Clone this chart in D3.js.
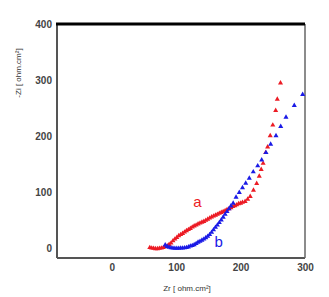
<!DOCTYPE html>
<html>
<head>
<meta charset="utf-8">
<script src="https://cdn.jsdelivr.net/npm/d3@7"></script>
<style>
  body { margin: 0; background: #fff; }
  svg { display: block; font-family: Arial, "Liberation Sans", sans-serif; }
  .tick text { fill: #444; font-size: 10px; font-weight: bold; }
</style>
</head>
<body>
<svg id="chart" width="329" height="297"></svg>
<script>
// series a (red) : Zr, -Zi
var aZr = [59, 62, 65, 68, 71, 74, 77, 80, 83, 86, 89, 92, 95, 98, 101, 104, 107, 110, 113, 116,
           119, 122, 125, 128, 131, 134, 137, 140, 143, 146, 149, 152, 155, 158, 161, 164, 167, 170, 173, 176,
           179, 182, 185, 188, 191, 194, 197, 200, 203, 207, 211, 215, 220, 225, 229, 232, 235, 239, 242, 246,
           250, 254.5, 257, 262];
var aZi = [2, 1, 0.5, 0, 0, 0.5, 1, 2, 3.5, 5, 7.5, 10, 14, 17, 20, 23, 25, 27, 29.5, 32,
           34, 36, 38.5, 40.5, 42, 44, 45.5, 47, 48.5, 50.5, 52.5, 54.5, 56.5, 58, 59.5, 61, 63, 64.5, 66, 67.5,
           69.5, 71, 73, 75, 76.5, 78, 80, 81, 82.5, 84, 88, 93, 104, 116, 129, 141, 152, 171, 181, 201,
           220, 246, 266, 295];

// series b (blue)
var bZr = [83, 86, 89, 92, 95, 98, 101, 104, 107, 110, 113, 116, 119, 122, 125, 128, 131, 134, 137, 140,
           143, 146, 149, 152, 155, 158, 161, 164, 167, 170, 173, 176, 179, 182, 185, 188.5, 193, 198, 203, 208,
           213.5, 219.7, 226.6, 232.8, 239.4, 246.7, 255, 262.3, 270.5, 283.4, 296.4];
var bZi = [6.5, 4, 2.5, 1.5, 1, 0.5, 0.5, 0.5, 1, 1, 1.5, 2, 3, 4.5, 5.5, 7, 9, 11.5, 13, 15,
           17, 19.5, 22, 25, 29, 33.5, 38, 42, 46.5, 51, 56, 61, 66, 71, 76, 81, 91.5, 100, 108.5, 116.5,
           125.5, 136.7, 147.5, 158, 171, 186, 201, 217.6, 234, 255, 274.6];

var xTicks = [0, 100, 200, 300];
var yTicks = [0, 100, 200, 300, 400];

(function() {

var series = [
  { name: 'a', zr: aZr, zi: aZi, color: '#ec1b24', label: [133, 84] },
  { name: 'b', zr: bZr, zi: bZi, color: '#1a1ae6', label: [166, 12] }
];

var svg = d3.select('#chart');

var left = 57, right = 305, top = 24, bottom = 258;

var x = d3.scaleLinear().domain([-85, 300]).range([left, right]);
var y = d3.scaleLinear().domain([-16.6, 400]).range([bottom, top]);

// frame
svg.append('line').attr('x1', left).attr('x2', left).attr('y1', top).attr('y2', bottom)
    .attr('stroke', '#555').attr('stroke-width', 2);
svg.append('line').attr('x1', left).attr('x2', right).attr('y1', bottom).attr('y2', bottom)
    .attr('stroke', '#555').attr('stroke-width', 2);
svg.append('line').attr('x1', right).attr('x2', right).attr('y1', top).attr('y2', bottom)
    .attr('stroke', '#666').attr('stroke-width', 1.5);
svg.append('line').attr('x1', left - 1).attr('x2', right).attr('y1', top).attr('y2', top)
    .attr('stroke', '#000').attr('stroke-width', 3);

// axes (labels only)
svg.append('g')
    .attr('transform', 'translate(0,' + (bottom + 6) + ')')
    .call(d3.axisBottom(x).tickValues(xTicks).tickSize(0).tickPadding(0))
    .select('.domain').remove();

svg.append('g')
    .attr('transform', 'translate(' + (left - 5) + ',0)')
    .call(d3.axisLeft(y).tickValues(yTicks).tickSize(0).tickPadding(0))
    .select('.domain').remove();

// points
var tri = d3.symbol().type(d3.symbolTriangle).size(11);

series.forEach(function(s) {
    var pts = s.zr.map(function(v, i) { return [v, s.zi[i]]; });
    svg.append('g')
        .attr('fill', s.color)
        .selectAll('path')
        .data(pts)
      .enter().append('path')
        .attr('d', tri)
        .attr('transform', function(d) { return 'translate(' + x(d[0]) + ',' + y(d[1]) + ')'; });

    svg.append('text')
        .attr('x', x(s.label[0]))
        .attr('y', y(s.label[1]))
        .attr('dy', '0.35em')
        .attr('text-anchor', 'middle')
        .attr('fill', s.color)
        .attr('font-size', 15)
        .text(s.name);
});

// axis titles
svg.append('text')
    .attr('x', 187).attr('y', 291)
    .attr('text-anchor', 'middle')
    .attr('fill', '#333')
    .attr('font-size', 8)
    .text('Zr [ ohm.cm²]');

svg.append('text')
    .attr('transform', 'translate(21,73) rotate(-90)')
    .attr('text-anchor', 'middle')
    .attr('fill', '#333')
    .attr('font-size', 8)
    .text('-Zi [ ohm.cm²]');

})();
</script>
</body>
</html>
